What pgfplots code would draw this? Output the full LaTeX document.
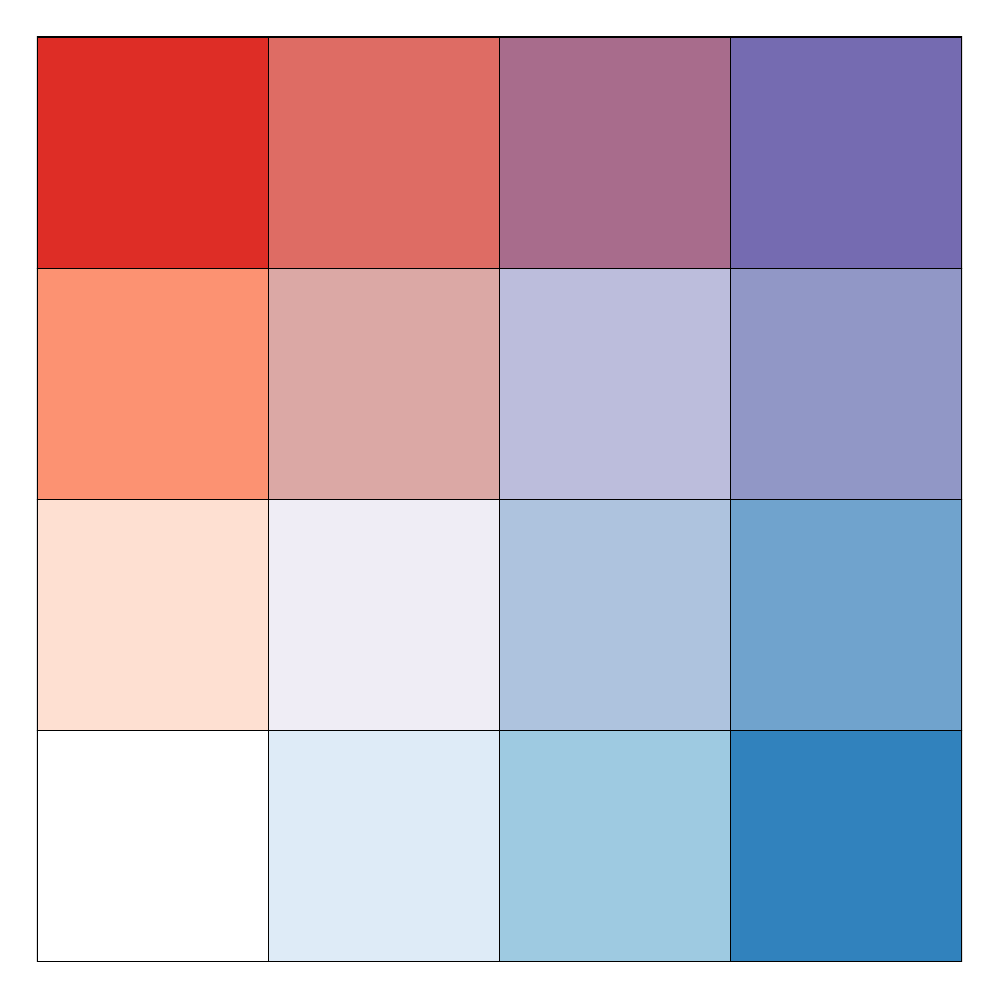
\documentclass[border=0pt]{standalone}
\usepackage{pgfplots}
\pgfplotsset{compat=1.18}
\definecolor{c11}{RGB}{222,45,38}
\definecolor{c12}{RGB}{222,108,100}
\definecolor{c13}{RGB}{168,108,140}
\definecolor{c14}{RGB}{117,107,177}
\definecolor{c21}{RGB}{252,146,114}
\definecolor{c22}{RGB}{219,168,165}
\definecolor{c23}{RGB}{188,189,220}
\definecolor{c24}{RGB}{145,151,198}
\definecolor{c31}{RGB}{254,224,210}
\definecolor{c32}{RGB}{239,237,245}
\definecolor{c33}{RGB}{174,195,222}
\definecolor{c34}{RGB}{112,163,205}
\definecolor{c41}{RGB}{255,255,255}
\definecolor{c42}{RGB}{222,235,247}
\definecolor{c43}{RGB}{158,202,225}
\definecolor{c44}{RGB}{49,130,189}
\begin{document}
\begin{tikzpicture}
\useasboundingbox (-0.37cm,-0.38cm) rectangle (9.63cm,9.62cm);
\begin{axis}[at={(0,0)}, anchor=south west, scale only axis, width=9.25cm, height=9.25cm,
  xmin=0, xmax=4, ymin=0, ymax=4, hide axis]
\addplot[fill=c11, draw=black] coordinates {(0,3) (1,3) (1,4) (0,4)} -- cycle;
\addplot[fill=c12, draw=black] coordinates {(1,3) (2,3) (2,4) (1,4)} -- cycle;
\addplot[fill=c13, draw=black] coordinates {(2,3) (3,3) (3,4) (2,4)} -- cycle;
\addplot[fill=c14, draw=black] coordinates {(3,3) (4,3) (4,4) (3,4)} -- cycle;
\addplot[fill=c21, draw=black] coordinates {(0,2) (1,2) (1,3) (0,3)} -- cycle;
\addplot[fill=c22, draw=black] coordinates {(1,2) (2,2) (2,3) (1,3)} -- cycle;
\addplot[fill=c23, draw=black] coordinates {(2,2) (3,2) (3,3) (2,3)} -- cycle;
\addplot[fill=c24, draw=black] coordinates {(3,2) (4,2) (4,3) (3,3)} -- cycle;
\addplot[fill=c31, draw=black] coordinates {(0,1) (1,1) (1,2) (0,2)} -- cycle;
\addplot[fill=c32, draw=black] coordinates {(1,1) (2,1) (2,2) (1,2)} -- cycle;
\addplot[fill=c33, draw=black] coordinates {(2,1) (3,1) (3,2) (2,2)} -- cycle;
\addplot[fill=c34, draw=black] coordinates {(3,1) (4,1) (4,2) (3,2)} -- cycle;
\addplot[fill=c41, draw=black] coordinates {(0,0) (1,0) (1,1) (0,1)} -- cycle;
\addplot[fill=c42, draw=black] coordinates {(1,0) (2,0) (2,1) (1,1)} -- cycle;
\addplot[fill=c43, draw=black] coordinates {(2,0) (3,0) (3,1) (2,1)} -- cycle;
\addplot[fill=c44, draw=black] coordinates {(3,0) (4,0) (4,1) (3,1)} -- cycle;
\end{axis}
\end{tikzpicture}
\end{document}
